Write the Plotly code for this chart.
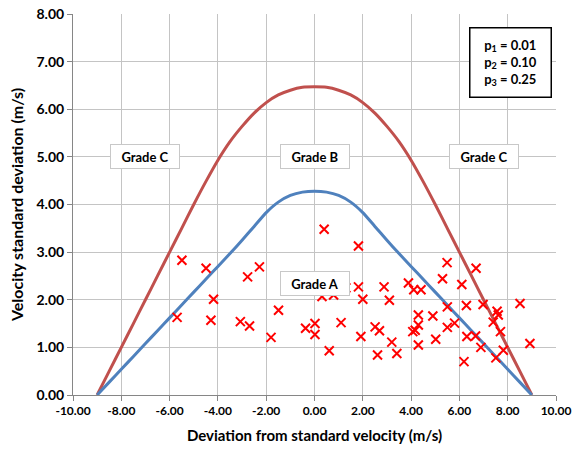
import plotly.graph_objects as go

# Boundary curves (velocity standard deviation limit vs. deviation), sampled every 0.5 m/s
curve_x = [-9, -8.5, -8, -7.5, -7, -6.5, -6, -5.5, -5, -4.5, -4, -3.5, -3, -2.5, -2, -1.5, -1, -0.5, 0,
           0.5, 1, 1.5, 2, 2.5, 3, 3.5, 4, 4.5, 5, 5.5, 6, 6.5, 7, 7.5, 8, 8.5, 9]
outer_curve = [0.0, 0.5, 1.0, 1.5, 2.0, 2.5, 3.0, 3.5, 4.0, 4.48, 4.93, 5.32, 5.64, 5.92, 6.14, 6.30, 6.40, 6.46, 6.47,
               6.46, 6.40, 6.30, 6.14, 5.92, 5.64, 5.32, 4.93, 4.48, 4.0, 3.5, 3.0, 2.5, 2.0, 1.5, 1.0, 0.5, 0.0]
inner_curve = [0.0, 0.27, 0.54, 0.81, 1.08, 1.35, 1.62, 1.89, 2.16, 2.43, 2.70, 2.97, 3.25, 3.54, 3.83, 4.05, 4.19, 4.26, 4.28,
               4.26, 4.19, 4.05, 3.83, 3.54, 3.25, 2.97, 2.70, 2.43, 2.16, 1.89, 1.62, 1.35, 1.08, 0.81, 0.54, 0.27, 0.0]

# Measured samples
obs_x = [-5.49, -4.49, -2.77, -2.28, -4.18, -5.69, -4.29, -3.07, -2.69, -1.49,
         -1.80, -0.37, 0.02, 0.02, 0.40, 1.82, 1.82, 2.00, 2.88, 3.10,
         3.89, 4.11, 4.41, 5.30, 5.49, 6.10, 6.69, 5.50, 6.29, 6.98,
         8.51, 7.56, 7.61, 7.40, 7.70, 7.82, 7.51, 6.89, 6.67, 6.31,
         6.19, 5.80, 5.50, 4.90, 5.02, 4.30, 4.30, 4.17, 4.07, 4.30,
         3.41, 3.20, 2.61, 2.51, 2.69, 1.92, 1.10, 0.61, 0.31, 0.79,
         1.30, 8.92]
obs_y = [2.83, 2.66, 2.48, 2.69, 2.01, 1.63, 1.57, 1.54, 1.45, 1.78,
         1.21, 1.40, 1.50, 1.27, 3.48, 3.13, 2.27, 2.01, 2.27, 1.99,
         2.35, 2.21, 2.21, 2.44, 2.78, 2.32, 2.66, 1.85, 1.88, 1.90,
         1.92, 1.76, 1.68, 1.53, 1.33, 0.94, 0.78, 1.00, 1.24, 1.23,
         0.70, 1.51, 1.42, 1.66, 1.17, 1.68, 1.47, 1.36, 1.33, 1.05,
         0.87, 1.11, 0.84, 1.43, 1.35, 1.23, 1.52, 0.93, 2.07, 2.10,
         2.25, 1.08]

x_ticks = [-10, -8, -6, -4, -2, 0, 2, 4, 6, 8, 10]
y_ticks = [0, 1, 2, 3, 4, 5, 6, 7, 8]

grade_labels = ["Grade C", "Grade B", "Grade C", "Grade A"]
grade_x = [-7.0, 0.0, 7.0, 0.0]
grade_y = [5.0, 5.0, 5.0, 2.34]

p_text = "p<sub>1</sub> = 0.01<br>p<sub>2</sub> = 0.10<br>p<sub>3</sub> = 0.25"

FONT = "Lato"

fig = go.Figure()

fig.add_trace(go.Scatter(
    x=curve_x, y=outer_curve, mode="lines",
    line=dict(color="#c0504d", width=3, shape="spline", smoothing=0.6),
    hoverinfo="skip", showlegend=False,
))
fig.add_trace(go.Scatter(
    x=curve_x, y=inner_curve, mode="lines",
    line=dict(color="#4f81bd", width=3, shape="spline", smoothing=0.6),
    hoverinfo="skip", showlegend=False,
))
fig.add_trace(go.Scatter(
    x=obs_x, y=obs_y, mode="markers",
    marker=dict(symbol="x-thin", size=9, line=dict(color="#ff0000", width=2)),
    showlegend=False,
))

for txt, gx, gy in zip(grade_labels, grade_x, grade_y):
    fig.add_annotation(
        x=gx, y=gy, xref="x", yref="y", text=f"<b>{txt}</b>", showarrow=False,
        font=dict(family=FONT, size=13, color="black"),
        bgcolor="white", bordercolor="#c8c8c8", borderwidth=1,
        width=66, height=21, borderpad=1,
    )

fig.add_annotation(
    x=8.1, y=6.99, xref="x", yref="y", text=f"<b>{p_text}</b>", showarrow=False,
    font=dict(family=FONT, size=13, color="black"),
    bgcolor="white", bordercolor="black", borderwidth=1.5,
    width=78, height=66, borderpad=1, align="center",
)

axis_common = dict(
    showgrid=True, gridcolor="#c4c4c4", gridwidth=1,
    showline=True, linecolor="#868686", linewidth=1,
    ticks="outside", ticklen=5, tickcolor="#868686",
    zeroline=False, automargin=False, ticklabeloverflow="allow",
)

fig.update_xaxes(
    range=[-10, 10], tickvals=x_ticks, ticktext=[f"{v:.2f}" for v in x_ticks], **axis_common,
    tickfont=dict(family=FONT, size=12, color="black", weight="bold"),
    title=dict(text="<b>Deviation from standard velocity (m/s)</b>",
               font=dict(family=FONT, size=15, color="black"), standoff=13),
)
fig.update_yaxes(
    range=[0, 8], tickvals=y_ticks, ticktext=[f"{v:.2f}" for v in y_ticks], **axis_common,
    tickfont=dict(family=FONT, size=14, color="black", weight="bold"),
    title=dict(text="<b>Velocity standard deviation (m/s)</b>",
               font=dict(family=FONT, size=16, color="black"), standoff=8),
)

fig.update_layout(
    width=572, height=451,
    margin=dict(l=73, r=16, t=14, b=56),
    paper_bgcolor="white", plot_bgcolor="white",
)

fig.write_html("out.html")
